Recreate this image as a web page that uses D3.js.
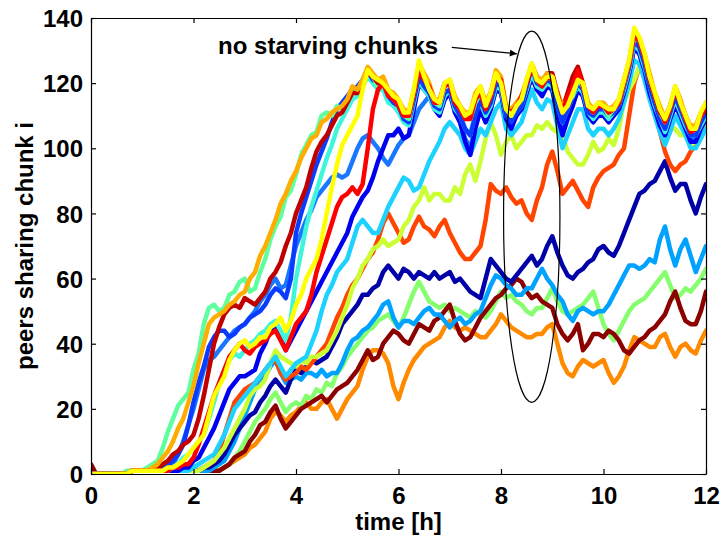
<!DOCTYPE html>
<meta charset="utf-8">
<style>

body {
  margin: 0;
  background: #fff;
}

text {
  font-family: Arial, "Liberation Sans", Helvetica, sans-serif;
  font-weight: bold;
}

.lines path {
  fill: none;
  stroke-width: 4.5px;
  stroke-linejoin: round;
  stroke-linecap: round;
}

.axis path, .axis line {
  stroke: #000;
  stroke-width: 1.2px;
}

</style>
<svg></svg>
<script src="https://cdn.jsdelivr.net/npm/d3@7"></script>
<script>

// time grid: one sample every 0.1 h, 0..12 h (each row below = one hour)
var times = d3.range(121).map(function(i) { return +(i * 0.1).toFixed(1); });

var xTicks = [0, 2, 4, 6, 8, 10, 12];
var yTicks = [0, 20, 40, 60, 80, 100, 120, 140];

// peers sharing chunk i (one array per chunk)
var greenCyan = [
  0,0,0,0,0,0,0,1,1,1,
  1,2,3,4,8,13,17,21,23,25,
  32,37,46,51,52,50,51,55,56,59,
  60,56,57,62,66,72,76,79,85,87,
  92,98,101,104,105,110,111,110,113,112,
  114,118,117,121,124,122,119,120,116,117,
  114,110,109,117,124,122,119,114,113,119,
  120,115,112,110,109,114,117,113,116,123,
  121,113,110,113,115,121,125,121,119,122,
  121,116,111,114,116,121,119,114,111,114,
  113,110,112,114,120,126,134,133,128,121,
  116,111,108,113,118,114,109,106,106,110,
  113];
var amber = [
  0,0,0,0,0,0,0,0,1,1,
  1,1,2,3,5,7,10,14,17,22,
  27,34,40,46,48,49,50,52,53,55,
  56,60,62,67,70,74,78,83,86,90,
  93,97,100,103,104,108,109,111,112,113,
  115,119,118,121,125,123,121,122,118,117,
  115,112,111,118,126,123,120,115,115,120,
  121,116,113,111,111,117,119,114,117,124,
  122,113,112,114,116,121,126,122,121,123,
  122,117,113,115,118,122,120,114,112,114,
  114,112,113,115,121,127,136,134,129,123,
  117,113,109,113,119,115,110,107,107,111,
  114];
var darkRed = [
  0,0,0,0,0,0,0,0,1,1,
  1,1,1,2,3,4,6,7,9,10,
  12,17,24,32,40,45,49,51,52,51,
  54,53,52,54,56,60,62,65,70,74,
  80,84,88,94,99,102,104,107,110,111,
  114,117,117,120,123,122,120,121,117,116,
  114,111,110,117,124,122,119,115,114,120,
  120,115,113,110,110,116,118,114,117,122,
  121,112,111,113,116,120,125,122,120,123,
  123,117,112,117,122,125,120,113,112,113,
  113,111,112,114,121,126,135,133,128,121,
  116,111,109,113,118,114,110,106,106,110,
  112];
var royalBlue = [
  0,0,0,0,0,0,0,0,1,1,
  1,1,1,1,2,3,4,6,9,15,
  22,28,33,39,42,44,44,42,43,45,
  46,48,49,50,52,55,57,56,54,60,
  74,80,85,90,95,99,103,108,112,114,
  116,118,119,121,124,121,120,120,116,114,
  113,109,108,115,122,119,117,113,112,117,
  118,113,110,106,104,110,115,111,114,120,
  119,110,108,111,113,119,125,120,119,121,
  120,113,108,112,116,120,118,111,110,112,
  112,110,111,113,119,125,133,131,126,119,
  114,109,106,111,116,112,108,104,104,108,
  111];
var mediumBlue = [
  0,0,0,0,0,0,0,0,1,1,
  1,1,1,1,2,2,3,6,10,15,
  20,26,32,35,36,38,40,42,44,45,
  46,48,50,53,55,58,60,57,58,64,
  70,74,78,81,85,87,89,91,92,91,
  92,96,100,103,104,102,100,97,95,98,
  101,103,104,108,112,114,116,113,111,115,
  117,112,108,103,100,107,112,108,112,118,
  117,109,107,110,112,117,122,118,117,120,
  118,111,106,110,114,118,116,110,108,111,
  110,108,110,112,117,123,131,129,124,118,
  112,108,104,109,114,110,107,103,103,107,
  110];
var cyan = [
  0,0,0,0,0,0,0,0,1,1,
  1,1,1,1,1,1,2,3,5,6,
  8,10,12,17,22,28,32,35,37,36,
  38,40,41,43,44,46,47,44,41,48,
  60,68,76,82,87,92,97,101,106,109,
  112,115,116,119,122,120,118,118,114,113,
  111,108,107,114,121,118,116,112,111,116,
  118,112,110,106,104,111,114,110,113,119,
  118,110,109,111,113,118,123,119,118,120,
  119,113,108,112,116,119,117,111,109,111,
  111,109,111,113,118,124,132,130,125,119,
  113,109,105,110,115,111,107,104,104,107,
  110];
var yellow = [
  0,0,0,0,0,0,0,0,1,1,
  1,1,1,1,1,2,2,3,4,6,
  8,10,12,18,24,27,30,35,38,40,
  41,39,40,42,42,45,46,48,44,47,
  52,55,60,63,66,72,80,88,95,101,
  104,107,110,118,124,122,121,120,118,116,
  115,111,111,118,127,122,118,115,114,120,
  121,115,113,110,111,116,119,113,117,123,
  120,112,110,113,115,121,126,121,120,122,
  122,116,111,113,117,121,120,113,112,114,
  113,112,112,115,121,127,137,134,129,122,
  117,112,109,113,119,114,110,106,106,111,
  114];
var red = [
  0,0,0,0,0,0,0,0,1,1,
  1,1,1,1,1,1,2,2,3,3,
  5,9,14,19,24,28,32,36,38,40,
  38,37,39,40,41,43,44,41,38,42,
  46,48,50,55,62,67,72,77,82,85,
  86,88,86,89,100,112,118,120,116,115,
  113,110,110,117,124,121,119,114,114,119,
  120,114,112,109,109,115,117,112,116,122,
  121,112,111,113,116,120,125,121,119,122,
  121,117,111,116,119,124,119,113,111,113,
  113,111,112,114,120,126,135,133,128,122,
  116,112,108,112,118,114,109,105,106,110,
  113];
var blue = [
  0,0,0,0,0,0,0,0,1,1,
  1,1,1,1,1,1,1,1,2,2,
  4,5,8,11,14,18,22,26,28,30,
  30,31,32,37,40,44,46,42,38,41,
  44,47,50,53,56,59,62,65,68,71,
  74,79,82,85,87,91,96,100,104,104,
  106,103,104,112,120,118,116,112,110,115,
  117,111,108,102,98,106,112,108,112,118,
  117,109,106,110,112,117,122,118,116,119,
  118,110,104,109,113,118,116,110,108,110,
  110,108,110,112,117,123,131,129,124,117,
  112,107,104,109,113,110,106,102,102,106,
  109];
var lightCyan = [
  0,0,0,0,0,0,0,0,1,1,
  1,1,1,1,1,1,1,1,1,1,
  2,3,4,5,6,9,12,16,20,22,
  24,26,28,30,32,34,36,33,30,32,
  34,35,36,40,44,50,55,58,62,64,
  66,71,76,78,76,74,74,78,82,85,
  88,91,90,87,88,92,96,99,102,106,
  108,106,104,100,98,102,106,104,108,112,
  114,106,104,106,108,113,118,114,112,115,
  114,107,100,104,108,112,112,106,104,106,
  106,104,106,109,114,120,127,126,121,115,
  110,105,101,105,110,107,104,100,100,103,
  106];
var orangeRed = [
  0,0,0,0,0,0,0,0,1,1,
  1,1,1,1,1,1,1,1,1,1,
  1,1,2,3,4,7,12,17,22,24,
  26,27,28,30,32,34,35,31,29,30,
  31,33,32,34,36,38,40,44,48,51,
  55,58,60,63,66,68,72,77,80,77,
  74,71,72,76,79,76,75,73,76,78,
  74,71,68,66,66,68,70,78,89,87,
  86,88,85,83,84,80,78,84,88,95,
  99,93,86,88,90,87,84,82,88,91,
  93,94,95,98,100,110,120,125,124,119,
  113,105,99,95,93,95,96,99,101,104,
  106];
var yellowGreen = [
  0,0,0,0,0,0,0,0,1,1,
  1,1,1,1,1,1,1,1,1,1,
  1,1,2,3,4,6,8,11,14,17,
  20,24,26,27,29,34,38,36,35,34,
  33,35,34,36,36,37,38,41,44,48,
  52,57,60,64,66,69,70,72,70,71,
  72,76,78,82,84,88,84,86,86,84,
  84,88,86,92,95,90,96,103,108,104,
  98,102,104,100,102,104,104,107,106,108,
  106,105,104,99,97,95,95,98,102,99,
  100,103,101,106,114,118,121,125,124,119,
  115,111,108,106,106,104,104,101,102,106,
  107];
var navy = [
  0,0,0,0,0,0,0,0,1,1,
  1,1,1,1,1,1,1,1,1,1,
  1,1,2,2,3,4,6,9,12,14,
  16,18,19,22,24,27,29,27,25,29,
  32,31,33,35,34,35,36,39,42,46,
  48,50,52,55,55,57,58,62,64,62,
  60,63,62,60,62,61,60,62,60,61,
  62,59,60,58,56,55,54,60,66,64,
  62,60,59,61,63,65,67,64,66,70,
  73,68,64,61,60,62,63,65,66,69,
  70,68,67,70,74,78,82,86,87,89,
  90,93,96,91,87,89,89,84,80,85,
  89];
var lightBlue = [
  0,0,0,0,0,0,0,0,1,1,
  1,1,1,1,1,1,1,1,1,1,
  1,1,1,1,2,3,4,7,10,14,
  18,22,26,28,30,33,35,31,28,29,
  30,29,31,31,30,32,30,31,31,34,
  38,41,42,44,45,47,49,52,53,48,
  45,47,47,46,48,50,51,49,49,47,
  45,47,48,46,47,49,50,54,58,61,
  60,58,57,55,55,57,57,60,63,60,
  58,55,53,49,47,50,51,50,49,50,
  50,52,55,58,61,64,64,63,64,66,
  65,72,76,69,64,69,72,67,62,66,
  70];
var lightGreen = [
  0,0,0,0,0,0,0,0,1,1,
  1,1,1,1,1,1,1,1,1,1,
  1,1,1,1,1,1,2,3,5,7,
  10,13,16,18,20,23,25,22,19,21,
  22,21,24,23,26,25,28,27,31,33,
  36,38,40,42,44,45,47,48,49,47,
  45,48,52,56,59,56,53,52,51,52,
  50,51,50,49,48,50,49,48,50,53,
  56,54,55,53,52,50,49,51,51,54,
  57,53,50,49,50,51,52,54,56,51,
  46,43,41,44,47,50,52,53,54,56,
  58,60,62,58,54,55,57,56,58,60,
  63];
var maroon = [
  3,0,0,0,0,0,0,0,1,1,
  1,1,1,1,1,1,1,1,1,1,
  1,1,1,1,1,1,2,3,5,6,
  7,10,12,15,16,19,21,17,14,16,
  18,20,21,22,23,24,22,24,26,27,
  28,30,32,35,38,35,36,40,42,44,
  43,41,40,43,46,45,44,47,48,50,
  52,47,43,41,42,45,48,50,52,54,
  55,57,58,60,59,56,54,55,53,52,
  51,46,43,41,43,46,38,40,43,43,
  42,44,43,41,38,37,39,41,42,44,
  45,47,49,53,56,51,47,46,46,50,
  56];
var orange = [
  0,0,0,0,0,0,0,0,1,1,
  1,1,1,1,1,1,1,1,1,1,
  1,1,1,1,1,1,2,3,4,5,
  6,8,9,11,13,17,19,18,16,18,
  19,21,22,20,20,22,23,20,17,20,
  23,25,27,32,36,38,38,37,34,27,
  23,28,32,35,37,39,40,41,42,45,
  47,45,44,45,44,43,42,42,44,46,
  49,47,45,44,43,42,42,43,43,45,
  46,40,34,31,30,33,35,34,33,34,
  35,31,28,30,33,38,42,41,40,39,
  39,42,43,39,36,39,40,38,37,41,
  44];

// drawing order (later ones on top) with jet-like colours
var series = [
  { values: orange,      color: "#ff8a00" },
  { values: lightGreen,  color: "#86ff6e" },
  { values: maroon,      color: "#8c0000" },
  { values: lightBlue,   color: "#00a2ff" },
  { values: navy,        color: "#0000a8" },
  { values: orangeRed,   color: "#ff4500" },
  { values: yellowGreen, color: "#ccff33" },
  { values: lightCyan,   color: "#1ed2ff" },
  { values: mediumBlue,  color: "#1a78ff" },
  { values: blue,        color: "#0000f0" },
  { values: cyan,        color: "#40f5dc" },
  { values: royalBlue,   color: "#0a3cff" },
  { values: greenCyan,   color: "#5fffa0" },
  { values: darkRed,     color: "#c00000" },
  { values: amber,       color: "#ffad00" },
  { values: red,         color: "#ff0000" },
  { values: yellow,      color: "#ffff00" }
];

var width = 723,
    height = 539,
    margin = { top: 18, right: 17, bottom: 65, left: 91 };

var svg = d3.select("svg")
    .attr("width", width)
    .attr("height", height);

var x = d3.scaleLinear().domain([0, 12]).range([margin.left, width - margin.right]);
var y = d3.scaleLinear().domain([0, 140]).range([height - margin.bottom, margin.top]);

svg.append("defs").append("clipPath")
    .attr("id", "plot")
  .append("rect")
    .attr("x", margin.left)
    .attr("y", margin.top)
    .attr("width", width - margin.left - margin.right)
    .attr("height", height - margin.top - margin.bottom);

var line = d3.line()
    .x(function(d, i) { return x(times[i]); })
    .y(function(d) { return y(d); });

svg.append("g")
    .attr("class", "lines")
    .attr("clip-path", "url(#plot)")
  .selectAll("path")
  .data(series)
  .enter().append("path")
    .attr("stroke", function(d) { return d.color; })
    .attr("d", function(d) { return line(d.values); });

// axes, ticks pointing inwards on all four sides
var gx = svg.append("g")
    .attr("class", "axis")
    .attr("transform", "translate(0," + y(0) + ")")
    .call(d3.axisBottom(x).tickValues(xTicks).tickSize(-5).tickSizeOuter(0).tickPadding(13));

var gy = svg.append("g")
    .attr("class", "axis")
    .attr("transform", "translate(" + x(0) + ",0)")
    .call(d3.axisLeft(y).tickValues(yTicks).tickSize(-5).tickSizeOuter(0).tickPadding(8));

svg.append("g")
    .attr("class", "axis")
    .attr("transform", "translate(0," + y(140) + ")")
    .call(d3.axisTop(x).tickValues(xTicks).tickSize(-5).tickSizeOuter(0).tickFormat(""));

svg.append("g")
    .attr("class", "axis")
    .attr("transform", "translate(" + x(12) + ",0)")
    .call(d3.axisRight(y).tickValues(yTicks).tickSize(-5).tickSizeOuter(0).tickFormat(""));

svg.selectAll(".axis text")
    .attr("font-size", 24)
    .attr("font-family", null)
    .attr("fill", "#000");

gy.selectAll("text").attr("dy", "0.36em");

svg.append("text")
    .attr("x", (x(0) + x(12)) / 2)
    .attr("y", 530)
    .attr("text-anchor", "middle")
    .attr("font-size", 24)
    .text("time [h]");

svg.append("text")
    .attr("transform", "translate(33," + (y(0) + y(140)) / 2 + ") rotate(-90)")
    .attr("text-anchor", "middle")
    .attr("font-size", 24)
    .text("peers sharing chunk i");

// annotation: ellipse round the 8-9 h window and arrow from the label
var note = { text: "no starving chunks", t: 2.48, v: 129 };
var arrow = { t1: 7.04, v1: 131, t2: 8.31, v2: 129 };
var ring = { t: 8.6, v: 79, rt: 0.55, rv: 57 };

svg.append("defs").append("marker")
    .attr("id", "head")
    .attr("viewBox", "0 0 10 10")
    .attr("refX", 10)
    .attr("refY", 5)
    .attr("markerWidth", 10)
    .attr("markerHeight", 7)
    .attr("markerUnits", "userSpaceOnUse")
    .attr("orient", "auto")
  .append("path")
    .attr("d", "M0,0L10,5L0,10z")
    .attr("fill", "#000");

svg.append("line")
    .attr("x1", x(arrow.t1))
    .attr("y1", y(arrow.v1))
    .attr("x2", x(arrow.t2))
    .attr("y2", y(arrow.v2))
    .attr("stroke", "#000")
    .attr("stroke-width", 1.2)
    .attr("marker-end", "url(#head)");

svg.append("ellipse")
    .attr("cx", x(ring.t))
    .attr("cy", y(ring.v))
    .attr("rx", x(ring.t + ring.rt) - x(ring.t))
    .attr("ry", y(0) - y(ring.rv))
    .attr("fill", "none")
    .attr("stroke", "#000")
    .attr("stroke-width", 1.2);

svg.append("text")
    .attr("x", x(note.t))
    .attr("y", y(note.v))
    .attr("font-size", 24)
    .text(note.text);

</script>
